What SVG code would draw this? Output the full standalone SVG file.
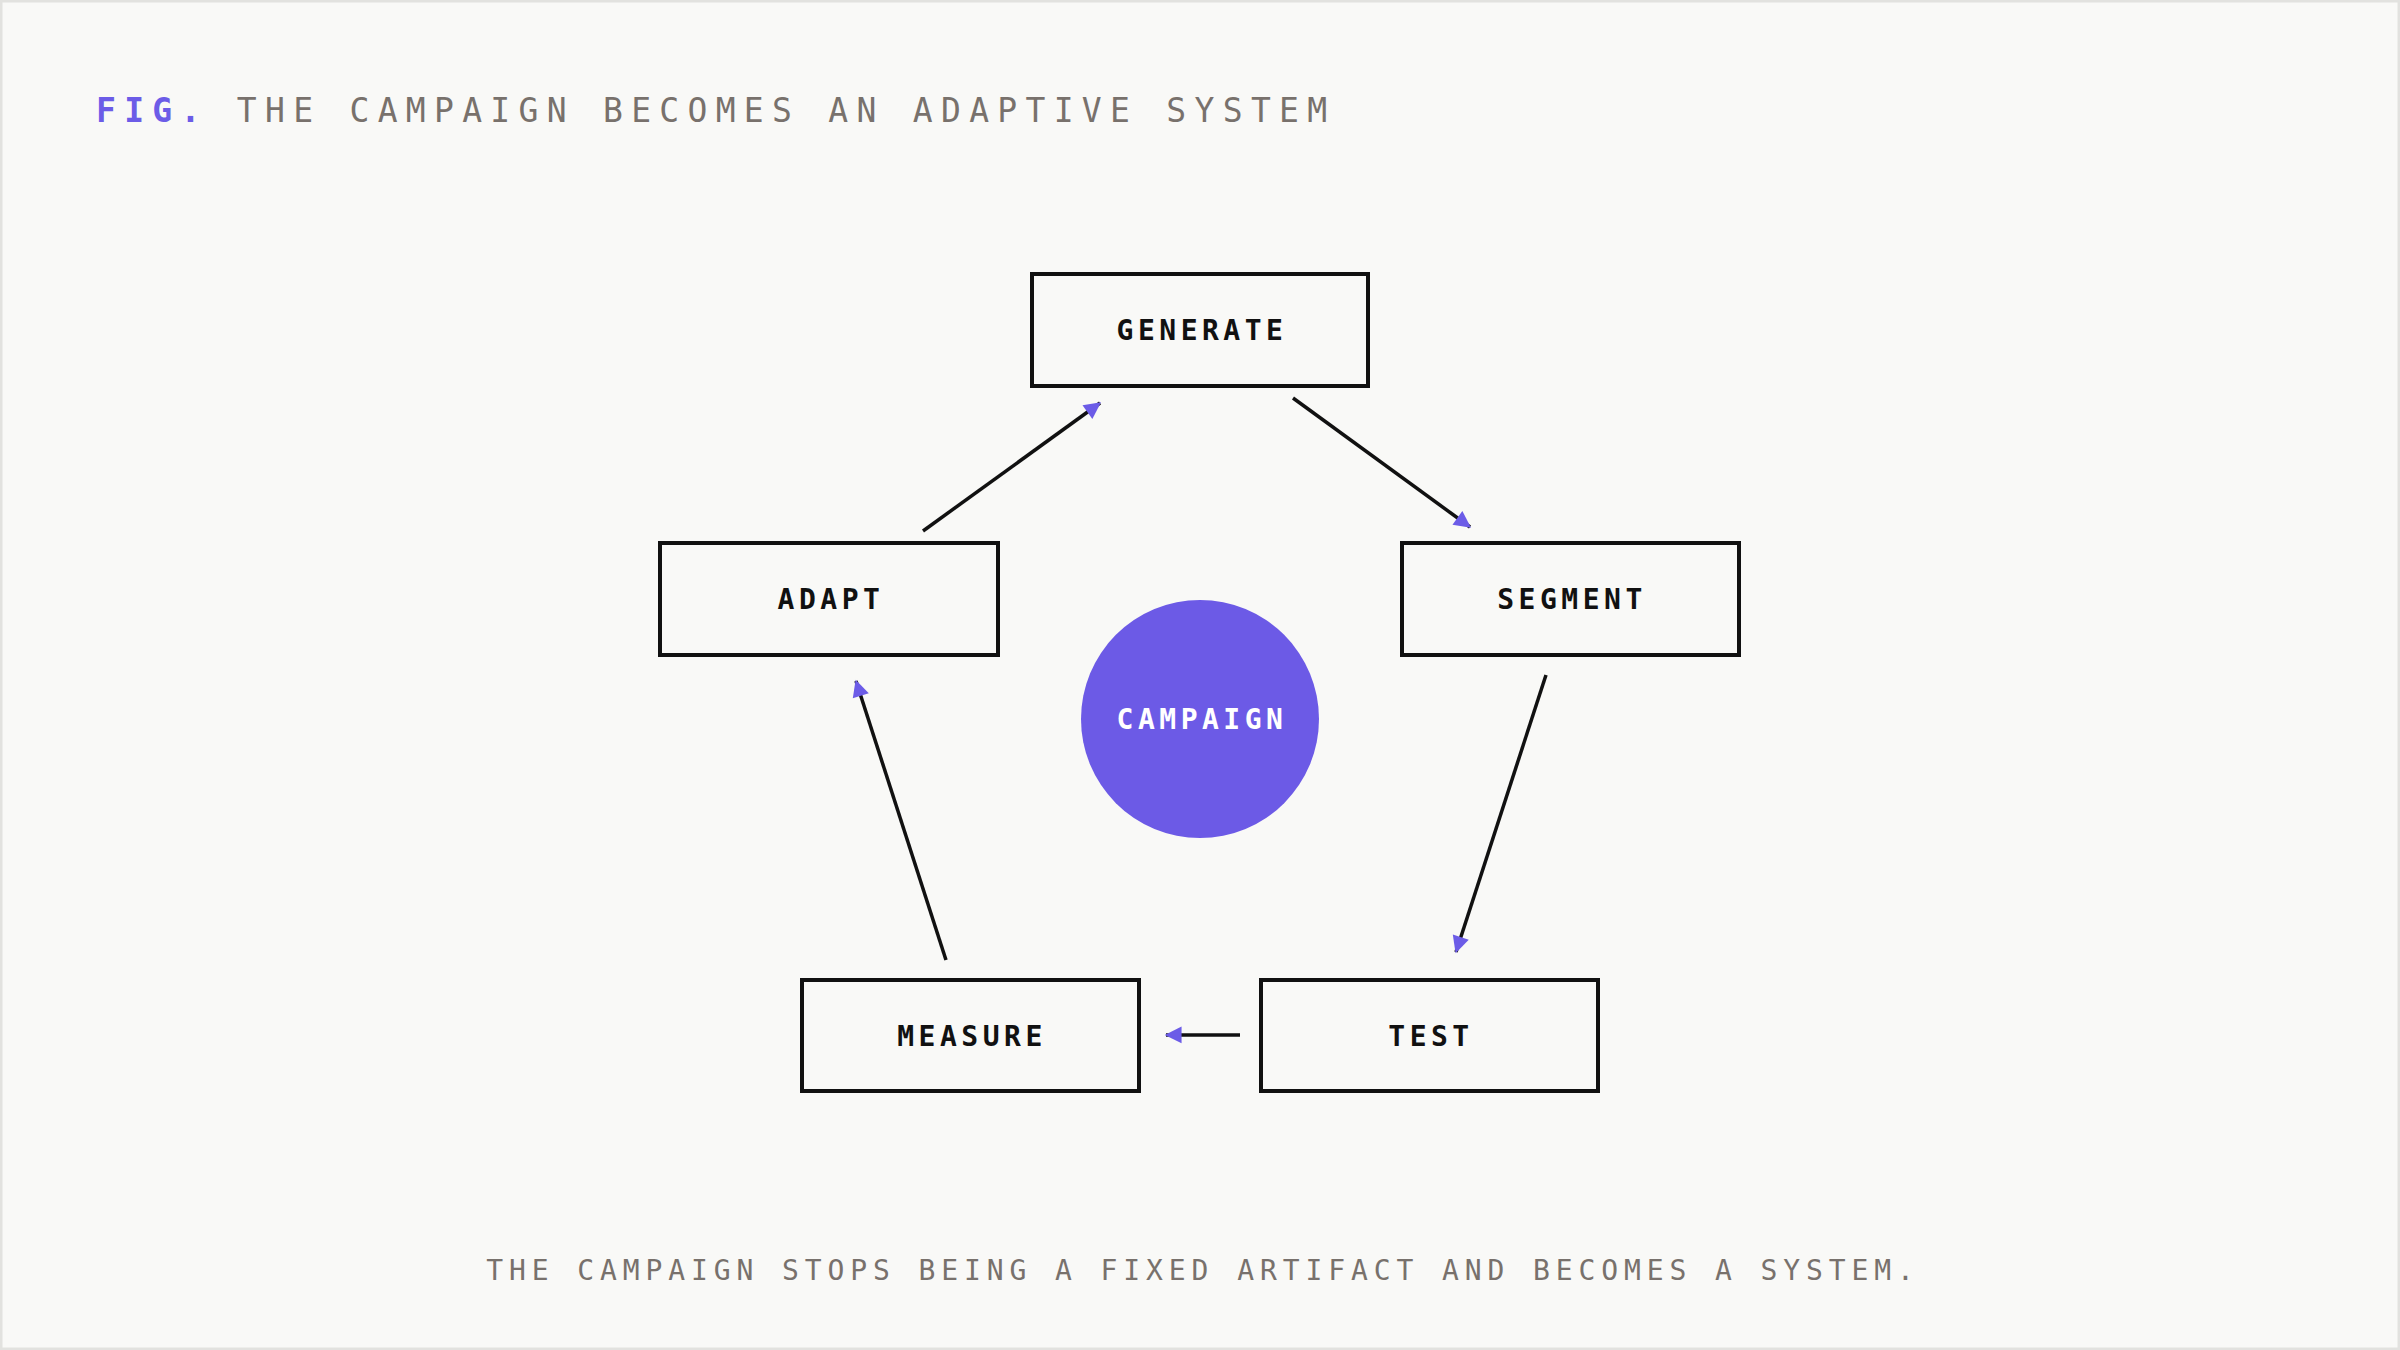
<svg xmlns="http://www.w3.org/2000/svg" width="2400" height="1350" viewBox="0 0 2400 1350">
<style>
.box{fill:#f9f9f7;stroke:#111;stroke-width:4}
.lbl{font-family:"DejaVu Sans Mono","Liberation Mono",monospace;font-weight:bold;font-size:28px;letter-spacing:4.5px;fill:#111;text-anchor:middle;dominant-baseline:central}
.con{stroke:#111;stroke-width:3.5;fill:none;marker-end:url(#ah)}
</style>
<defs>
<marker id="ah" viewBox="0 0 10 10" refX="9" refY="5" markerWidth="7" markerHeight="7" markerUnits="userSpaceOnUse" orient="auto" style="overflow:visible">
<path d="M0,0 L10,5 L0,10 z" fill="#6c5ce7" transform="scale(2.4) translate(-5.5,-2.9)"/>
</marker>
</defs>
<rect x="1" y="1" width="2398" height="1348" fill="#f9f9f7" stroke="#e2e2df" stroke-width="3"/>
<text x="96" y="122" font-family="DejaVu Sans Mono,monospace" font-size="33" letter-spacing="8.3" fill="#78716c"><tspan fill="#6c5ce7" font-weight="bold">FIG.</tspan> THE CAMPAIGN BECOMES AN ADAPTIVE SYSTEM</text>
<g id="connectors">
<line class="con" x1="923" y1="531" x2="1100" y2="403"/>
<line class="con" x1="1293" y1="398" x2="1470" y2="527"/>
<line class="con" x1="1546" y1="675" x2="1456" y2="952"/>
<line class="con" x1="1240" y1="1035" x2="1166" y2="1035"/>
<line class="con" x1="946" y1="960" x2="856" y2="681"/>
</g>
<g id="generate"><rect class="box" x="1032" y="274" width="336" height="112"/><text class="lbl" x="1202" y="330">GENERATE</text></g>
<g id="segment"><rect class="box" x="1402" y="543" width="337" height="112"/><text class="lbl" x="1572" y="599">SEGMENT</text></g>
<g id="test"><rect class="box" x="1261" y="980" width="337" height="111"/><text class="lbl" x="1431" y="1036">TEST</text></g>
<g id="measure"><rect class="box" x="802" y="980" width="337" height="111"/><text class="lbl" x="972" y="1036">MEASURE</text></g>
<g id="adapt"><rect class="box" x="660" y="543" width="338" height="112"/><text class="lbl" x="831" y="599">ADAPT</text></g>
<g id="campaign"><circle cx="1200" cy="719" r="119" fill="#6c5ae6"/><text class="lbl" x="1202" y="719" fill="#fff" style="fill:#fff;font-weight:normal;font-weight:600">CAMPAIGN</text></g>
<text x="1203" y="1280" text-anchor="middle" font-family="DejaVu Sans Mono,monospace" font-size="28" letter-spacing="5.9" fill="#78716c">THE CAMPAIGN STOPS BEING A FIXED ARTIFACT AND BECOMES A SYSTEM.</text>
</svg>
